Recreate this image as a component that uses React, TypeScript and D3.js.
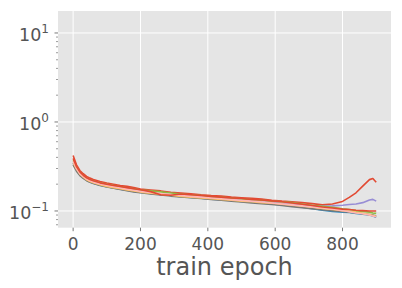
import React from "react";
import * as d3 from "d3";

const epochs = [0,10,20,30,40,50,60,80,100,120,140,160,180,200,230,260,290,320,350,380,410,440,470,500,530,560,590,620,650,680,710,740,770,800,820,840,860,880,890,900];

const seriesRed = [0.42,0.33,0.285,0.262,0.245,0.234,0.226,0.214,0.206,0.2,0.193,0.189,0.183,0.176,0.172,0.168,0.162,0.159,0.156,0.152,0.149,0.147,0.143,0.141,0.139,0.136,0.132,0.129,0.127,0.124,0.121,0.117,0.12,0.128,0.142,0.16,0.19,0.225,0.232,0.21];
const seriesBlue = [0.35,0.29,0.255,0.236,0.222,0.212,0.205,0.195,0.187,0.181,0.176,0.171,0.166,0.161,0.157,0.153,0.149,0.145,0.142,0.139,0.136,0.134,0.131,0.128,0.126,0.123,0.12,0.117,0.114,0.11,0.106,0.102,0.099,0.097,0.096,0.094,0.092,0.09,0.088,0.085];
const seriesPurple = [0.34,0.3,0.265,0.244,0.228,0.218,0.21,0.2,0.192,0.186,0.18,0.175,0.17,0.165,0.161,0.156,0.152,0.149,0.145,0.142,0.14,0.137,0.134,0.131,0.129,0.126,0.124,0.121,0.118,0.116,0.114,0.113,0.114,0.116,0.118,0.12,0.124,0.133,0.135,0.129];
const seriesGray = [0.33,0.28,0.25,0.232,0.219,0.21,0.203,0.193,0.186,0.18,0.174,0.169,0.164,0.16,0.155,0.151,0.147,0.144,0.141,0.138,0.135,0.132,0.129,0.126,0.123,0.121,0.118,0.115,0.112,0.109,0.106,0.103,0.101,0.099,0.097,0.095,0.093,0.091,0.09,0.088];
const seriesYellow = [0.35,0.295,0.26,0.24,0.224,0.214,0.207,0.197,0.189,0.183,0.178,0.172,0.168,0.163,0.158,0.154,0.15,0.146,0.143,0.14,0.137,0.135,0.132,0.129,0.127,0.124,0.122,0.119,0.116,0.113,0.11,0.107,0.104,0.101,0.099,0.097,0.094,0.091,0.089,0.087];
const seriesGreen = [0.37,0.31,0.272,0.25,0.235,0.225,0.217,0.207,0.199,0.193,0.187,0.182,0.177,0.172,0.168,0.164,0.159,0.155,0.151,0.149,0.145,0.143,0.139,0.137,0.134,0.132,0.129,0.127,0.124,0.12,0.116,0.113,0.11,0.106,0.104,0.101,0.099,0.097,0.095,0.094];
const seriesPink = [0.36,0.3,0.263,0.243,0.228,0.219,0.211,0.201,0.193,0.187,0.181,0.176,0.171,0.166,0.161,0.157,0.153,0.149,0.146,0.143,0.14,0.137,0.134,0.131,0.129,0.126,0.123,0.12,0.117,0.114,0.111,0.108,0.105,0.101,0.098,0.095,0.093,0.09,0.088,0.086];
const seriesRed2 = [0.39,0.315,0.275,0.252,0.236,0.226,0.218,0.207,0.2,0.193,0.188,0.183,0.178,0.173,0.165,0.152,0.15,0.155,0.152,0.149,0.146,0.143,0.14,0.138,0.135,0.133,0.13,0.127,0.123,0.119,0.115,0.111,0.108,0.105,0.104,0.102,0.101,0.1,0.1,0.1];

const allSeries = [seriesRed, seriesBlue, seriesPurple, seriesGray, seriesYellow, seriesGreen, seriesPink, seriesRed2];
const colors = ["#E24A33", "#348ABD", "#988ED5", "#777777", "#FBC15E", "#8EBA42", "#FFB5B8", "#E24A33"];

const xTicks = [0, 200, 400, 600, 800];
const yTickExps = [1, 0, -1];
const xLabel = "train epoch";

export default function App() {
  const W = 402, H = 288;
  const left = 58, right = 391, top = 11, bottom = 227.7;
  const x = d3.scaleLinear().domain([-44.95, 943.95]).range([left, right]);
  const y = d3.scaleLog().domain([Math.pow(10, -1.188), Math.pow(10, 1.247)]).range([bottom, top]);
  const line = d3.line<number>().x((_, i) => x(epochs[i])).y((d) => y(d));

  const minor: number[] = [];
  for (let e = -2; e <= 1; e++) {
    for (let m = 2; m <= 9; m++) {
      const v = m * Math.pow(10, e);
      if (v >= y.domain()[0] && v <= y.domain()[1]) minor.push(v);
    }
  }
  const font = "DejaVu Sans, sans-serif";
  return (
    <svg width={W} height={H} style={{ position: "absolute", left: 0, top: 0, background: "#fff" }}>
      <rect x={left} y={top} width={right - left} height={bottom - top} fill="#E5E5E5" />
      {xTicks.map((t) => (
        <line key={"gx" + t} x1={x(t)} x2={x(t)} y1={top} y2={bottom} stroke="#fff" strokeWidth={1} />
      ))}
      {yTickExps.map((e) => (
        <line key={"gy" + e} x1={left} x2={right} y1={y(Math.pow(10, e))} y2={y(Math.pow(10, e))} stroke="#fff" strokeWidth={1} />
      ))}
      <clipPath id="clip">
        <rect x={left} y={top} width={right - left} height={bottom - top} />
      </clipPath>
      <g clipPath="url(#clip)">
        {allSeries.map((s, i) => (
          <path key={i} d={line(s) || ""} fill="none" stroke={colors[i]} strokeWidth={1.6} strokeLinejoin="round" />
        ))}
      </g>
      {xTicks.map((t) => (
        <g key={"xt" + t}>
          <line x1={x(t)} x2={x(t)} y1={bottom} y2={bottom + 3.5} stroke="#555" strokeWidth={0.8} />
          <text x={x(t)} y={249.5} textAnchor="middle" fontFamily={font} fontSize={17} fill="#555">{t}</text>
        </g>
      ))}
      {minor.map((v, i) => (
        <line key={"mn" + i} x1={left - 2} x2={left} y1={y(v)} y2={y(v)} stroke="#555" strokeWidth={0.6} />
      ))}
      {yTickExps.map((e) => (
        <g key={"yt" + e}>
          <line x1={left - 3.5} x2={left} y1={y(Math.pow(10, e))} y2={y(Math.pow(10, e))} stroke="#555" strokeWidth={0.8} />
          <text x={49} y={y(Math.pow(10, e)) + 7.8} textAnchor="end" fontFamily={font} fontSize={17.5} fill="#555">
            10<tspan fontSize={12} dy={-8.2}>{e < 0 ? "\u2212" + Math.abs(e) : String(e)}</tspan>
          </text>
        </g>
      ))}
      <text x={(left + right) / 2} y={275} textAnchor="middle" fontFamily={font} fontSize={24} fill="#555">{xLabel}</text>
    </svg>
  );
}
